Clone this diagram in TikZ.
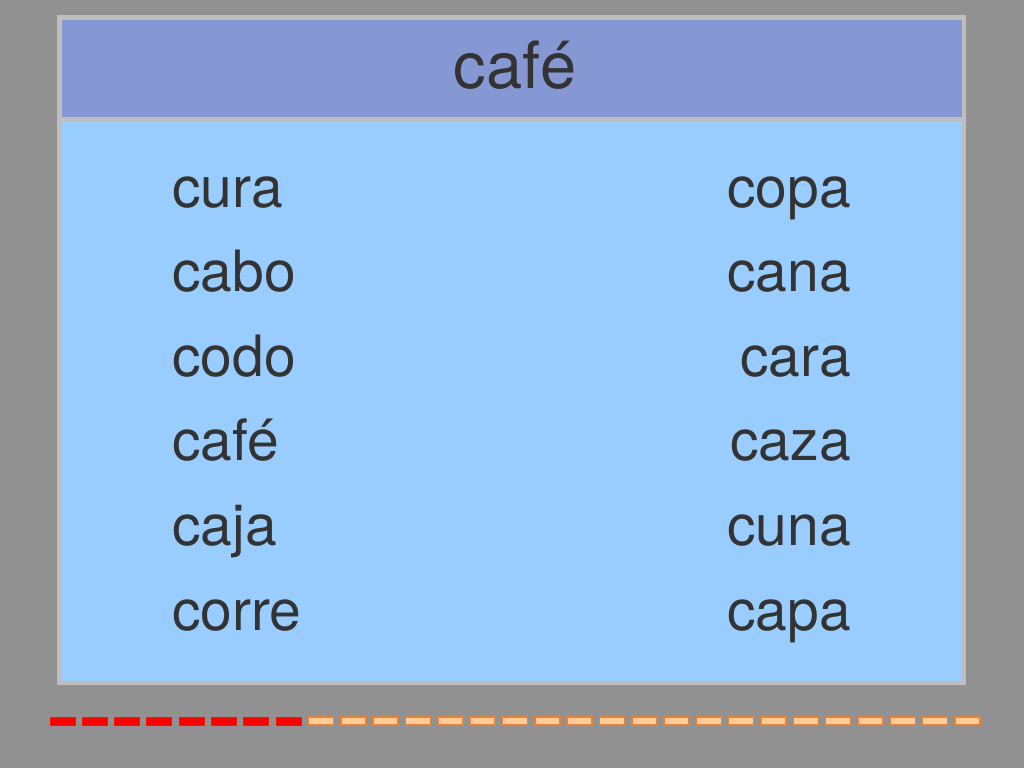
\documentclass[tikz,border=0pt]{standalone}
\usepackage{fontspec}
\setmainfont{TeX Gyre Heros}
\usepackage{tikz}
\usetikzlibrary{calc}

\definecolor{bggray}{RGB}{145,145,145}
\definecolor{framegray}{RGB}{190,190,190}
\definecolor{headblue}{RGB}{133,152,211}
\definecolor{bodyblue}{RGB}{153,204,255}
\definecolor{textgray}{RGB}{51,51,51}
\definecolor{dashline}{RGB}{230,130,60}
\definecolor{dashfill}{RGB}{255,204,153}

\tikzset{
    frame/.style={draw=framegray, line width=4.5pt},
    word/.style={text=textgray, inner sep=0pt, font=\fontsize{57}{57}\selectfont},
    title/.style={word, font=\fontsize{65}{65}\selectfont},
    donedash/.style={fill=red, draw=red!85!orange, line width=1pt},
    todash/.style={fill=dashfill, draw=dashline, line width=1.5pt}
}

\begin{document}
\begin{tikzpicture}[x=1pt,y=-1pt]
    \fill[bggray] (0,0) rectangle (1024,768);
    \useasboundingbox (0,0) rectangle (1024,768);

    \draw[frame, fill=headblue] (59.5,17.5) rectangle (964,119.5);
    \draw[frame, fill=bodyblue] (59.5,119.5) rectangle (964,683);

    \draw (515,88) node[title, anchor=base](head){café};

    \foreach \w [count=\i] in {cura,cabo,codo,café,caja,corre}
        \draw (172,{207+(\i-1)*84.6}) node[word, anchor=base west](left\i){\w};
    \foreach \w [count=\i] in {copa,cana,cara,caza,cuna,capa}
        \draw (851,{207+(\i-1)*84.6}) node[word, anchor=base east](right\i){\w};

    % progress bar
    \foreach \i in {0,...,7}
        \draw[donedash] ({50+\i*32.32},717) rectangle ++(25,8);
    \foreach \i in {8,...,28}
        \draw[todash] ({50+\i*32.32},717) rectangle ++(25,8);
\end{tikzpicture}
\end{document}
